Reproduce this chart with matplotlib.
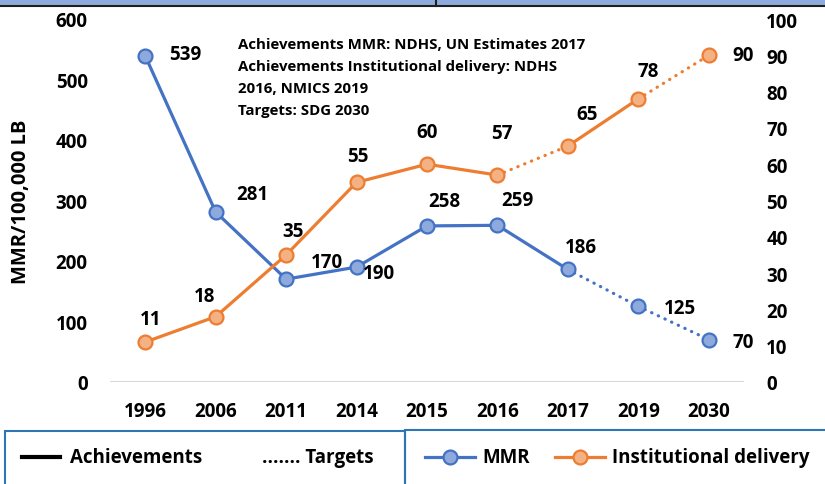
import matplotlib.pyplot as plt
from matplotlib.lines import Line2D
from matplotlib.patches import Rectangle

plt.rcParams['font.family'] = ['Open Sans', 'DejaVu Sans']
plt.rcParams['font.weight'] = 'bold'

# podaci
godine = ['1996', '2006', '2011', '2014', '2015', '2016', '2017', '2019', '2030']
mmr = [539, 281, 170, 190, 258, 259, 186, 125, 70]
inst = [11, 18, 35, 55, 60, 57, 65, 78, 90]

# pomaci oznaka u pikselima (dx, dy)
mmr_pomak = [(40, 2), (37, 18), (41, 17), (22, -6), (17, 25), (20, 25), (13, 22), (42, -2), (34, -2)]
inst_pomak = [(5, 23), (-11, 21), (7, 24), (1, 26), (0, 32), (4, 42), (19, 32), (10, 28), (34, 0)]

izvori = ['Achievements MMR: NDHS, UN Estimates 2017',
          'Achievements Institutional delivery: NDHS',
          '2016, NMICS 2019',
          'Targets: SDG 2030']

plava = '#4472C4'
plava_svj = '#8EA9DB'
nar = '#ED7D31'
nar_svj = '#F4B183'
tocke = (0, (0.1, 2.2))
fs = 13.5

fig = plt.figure(figsize=(8.25, 4.85), dpi=100)
ax = fig.add_axes([110 / 825, 102 / 485, 634 / 825, 363 / 485])
ax2 = ax.twinx()

x = list(range(len(godine)))


def crtaj(os, y, boja, svj, isprekidano):
    # segment po segment, puna ili tockasta linija
    for i in range(len(y) - 1):
        ls = tocke if i in isprekidano else '-'
        os.plot(x[i:i + 2], y[i:i + 2], color=boja, lw=2.3, ls=ls,
                dash_capstyle='round', zorder=2)
    os.plot(x, y, ls='none', marker='o', ms=10, mfc=svj, mec=boja, mew=1.6, zorder=3)


crtaj(ax, mmr, plava, plava_svj, [6, 7])
crtaj(ax2, inst, nar, nar_svj, [5, 7])

for i in range(len(x)):
    ax.annotate(str(mmr[i]), (x[i], mmr[i]), xytext=mmr_pomak[i], textcoords='offset pixels',
                ha='center', va='center', fontsize=fs, fontweight='bold')
    ax2.annotate(str(inst[i]), (x[i], inst[i]), xytext=inst_pomak[i], textcoords='offset pixels',
                 ha='center', va='center', fontsize=fs, fontweight='bold')

ax.set_xlim(-0.5, len(godine) - 0.5)
ax.set_ylim(0, 600)
ax2.set_ylim(0, 100)
ax.set_yticks(range(0, 601, 100))
ax2.set_yticks(range(0, 101, 10))
ax.set_xticks(x)
ax.set_xticklabels(godine)

for a in (ax, ax2):
    for s in a.spines.values():
        s.set_visible(False)
    a.tick_params(length=0, labelsize=fs)
ax.tick_params(axis='y', pad=16)
ax.tick_params(axis='x', pad=14)
ax2.tick_params(axis='y', pad=16)
ax.axhline(0, color='#D9D9D9', lw=1.5, zorder=1)

ax.set_ylabel('MMR/100,000 LB', fontsize=14.5, fontweight='bold')
ax.yaxis.set_label_coords(-0.124, 0.5)

# izvori, red po red
for k, red in enumerate(izvori):
    fig.text(238 / 825, 1 - (45 + 22 * k) / 485, red,
             fontsize=10.8, fontweight='bold', va='center', ha='left')

# gornja traka
fig.add_artist(Rectangle((0, 1 - 6 / 485), 1, 6 / 485, transform=fig.transFigure,
                         facecolor='#8FAADC', edgecolor='none'))
fig.add_artist(Line2D([0, 1], [1 - 7 / 485] * 2, transform=fig.transFigure, color='#1f1f1f', lw=1.5))
fig.add_artist(Line2D([436 / 825] * 2, [1, 1 - 7 / 485], transform=fig.transFigure, color='#1f1f1f', lw=1.5))

# legenda dolje
okvir = '#2E75B6'
fig.add_artist(Rectangle((5 / 825, -0.05), 400 / 825, 0.05 + 53 / 485, transform=fig.transFigure,
                         facecolor='none', edgecolor=okvir, lw=1.5))
fig.add_artist(Rectangle((405 / 825, -0.05), 430 / 825, 0.05 + 54 / 485, transform=fig.transFigure,
                         facecolor='none', edgecolor=okvir, lw=1.5))

ly = 1 - 458 / 485
fig.add_artist(Line2D([22 / 825, 60 / 825], [ly, ly], transform=fig.transFigure, color='black', lw=3))
fig.text(70 / 825, ly, 'Achievements', fontsize=fs, fontweight='bold', va='center')
fig.text(262 / 825, ly, '....... Targets', fontsize=fs, fontweight='bold', va='center')

for x0, boja, svj, tekst in [(425, plava, plava_svj, 'MMR'), (555, nar, nar_svj, 'Institutional delivery')]:
    fig.add_artist(Line2D([x0 / 825, (x0 + 50) / 825], [ly, ly], transform=fig.transFigure,
                          color=boja, lw=2.3))
    fig.add_artist(Line2D([(x0 + 25) / 825], [ly], transform=fig.transFigure, ls='none',
                          marker='o', ms=10, mfc=svj, mec=boja, mew=1.6))
    fig.text((x0 + 57) / 825, ly, tekst, fontsize=fs, fontweight='bold', va='center')

fig.savefig('out.png', dpi=100)
